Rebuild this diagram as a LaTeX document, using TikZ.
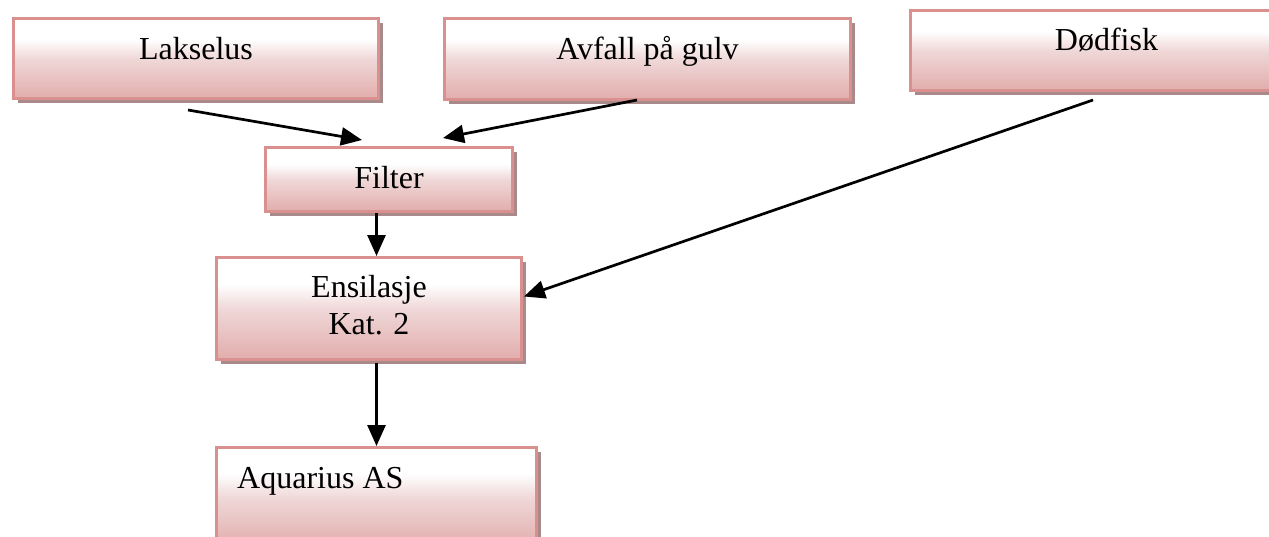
\documentclass[tikz,border=0pt]{standalone}
\usepackage{fontspec}
\setmainfont{Liberation Serif}
\usetikzlibrary{calc,shadows,arrows.meta}

\definecolor{boxedge}{HTML}{D9908F}
\definecolor{boxlow}{HTML}{E2B0AF}
\definecolor{boxmid}{HTML}{F0D8D8}
\definecolor{boxshadow}{HTML}{A88A8A}

% white at the top, fading to rose towards the bottom
\pgfdeclareverticalshading{roseshade}{100bp}{%
  color(0bp)=(boxlow); color(27bp)=(boxlow); color(50bp)=(boxmid);
  color(62bp)=(white); color(100bp)=(white)}

\tikzset{
  box/.style={rectangle, draw=boxedge, line width=3pt, shading=roseshade,
    anchor=north west, inner sep=0pt,
    drop shadow={shadow xshift=4pt, shadow yshift=-4pt, fill=boxshadow, opacity=1}},
  lbl/.style={inner sep=0pt, font=\fontsize{32}{38}\selectfont},
  flow/.style={line width=2.7pt, -{Triangle[length=21pt,width=18pt]}}
}

\begin{document}
\begin{tikzpicture}[x=1pt, y=-1pt]
  \path[fill=white, use as bounding box] (0,0) rectangle (1269,536);

  % source boxes along the top
  \node[box, minimum width=365pt, minimum height=80pt] (lak) at (12,17) {};
  \node[box, minimum width=406pt, minimum height=81pt] (avf) at (443,17) {};
  \node[box, minimum width=400pt, minimum height=80pt] (dod) at (909,9) {};

  % processing chain
  \node[box, minimum width=247pt, minimum height=64pt]  (fil) at (264,146) {};
  \node[box, minimum width=305pt, minimum height=102pt] (ens) at (215,256) {};
  \node[box, minimum width=320pt, minimum height=100pt] (aqu) at (215,446) {};

  % texts
  \node[lbl, anchor=base] (lakT) at ($(lak.north)+(0,42)$) {Lakselus};
  \node[lbl, anchor=base] (avfT) at ($(avf.north)+(0,42)$) {Avfall på gulv};
  \node[lbl, anchor=base] (dodT) at ($(dod.north)+(-4,41)$) {Dødfisk};
  \node[lbl, anchor=base] (filT) at ($(fil.north)+(0,42)$) {Filter};
  \node[lbl, anchor=base] (ensT1) at ($(ens.north)+(0,41)$) {Ensilasje};
  \node[lbl, anchor=base] (ensT2) at ($(ens.north)+(0,78)$) {Kat. 2};
  \node[lbl, anchor=base west] (aquT) at ($(aqu.north west)+(22,42)$) {Aquarius AS};

  % connectors
  \draw[flow] ($(lak.south west)+(176,10)$) -- ($(fil.north west)+(98,-6)$);
  \draw[flow] ($(avf.south west)+(194,-1)$) -- ($(fil.north west)+(179,-8)$);
  \draw[flow] ($(dod.south west)+(184,8)$) -- ($(ens.east)+(1,-12)$);
  \draw[flow] (fil.south -| aqu.north) -- (ens.north -| aqu.north);
  \draw[flow] ($(ens.south -| aqu.north)+(0,2)$) -- (aqu.north);
\end{tikzpicture}
\end{document}
